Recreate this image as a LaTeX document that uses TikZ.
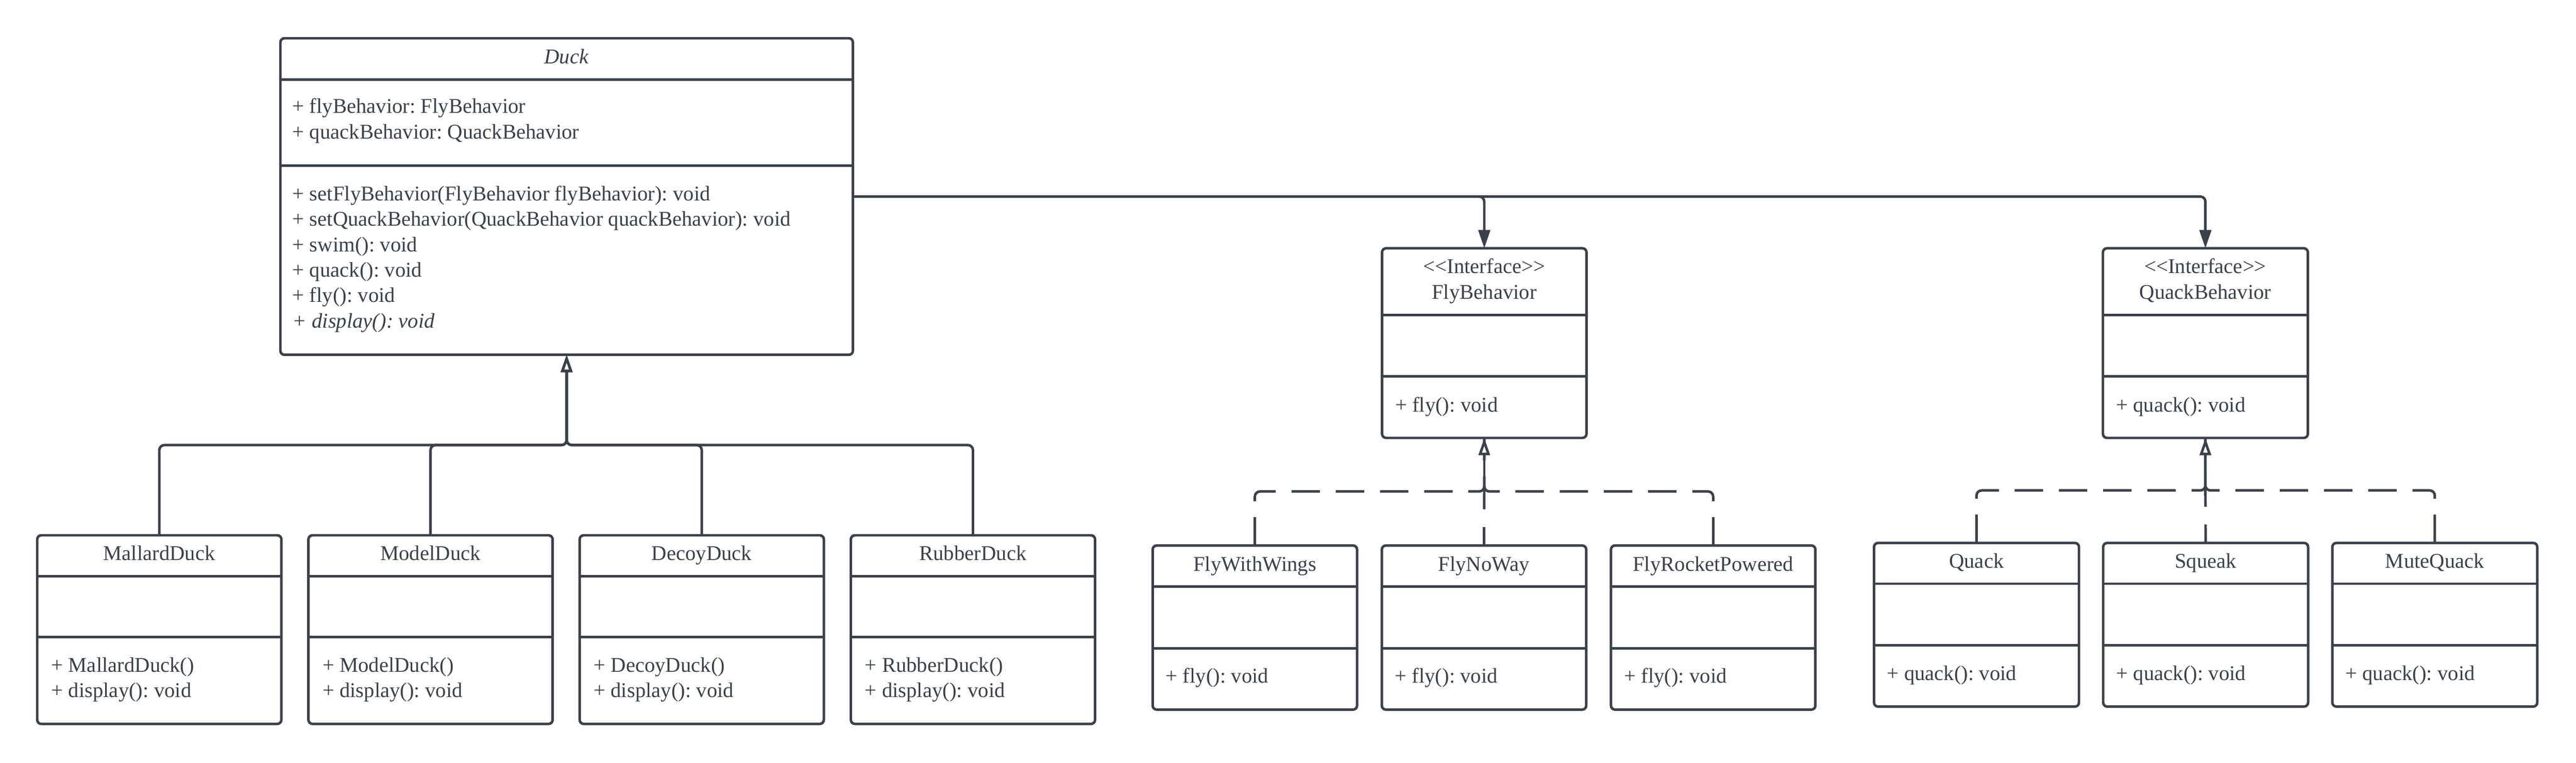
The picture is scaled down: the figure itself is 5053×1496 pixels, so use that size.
\documentclass[tikz,border=0pt]{standalone}
\usepackage{fontspec}
\setmainfont{Liberation Serif}
\usetikzlibrary{arrows.meta,positioning,calc}
\definecolor{ink}{HTML}{3A414A}
\frenchspacing

\tikzset{
  classbox/.style={draw=ink, line width=1.42pt, rounded corners=0.08cm, fill=white,
    inner sep=0pt, outer sep=0pt, anchor=north west},
  divider/.style={draw=ink, line width=1.42pt},
  txt/.style={text=ink, inner sep=0pt, font=\fontsize{11.7}{14.2}\selectfont},
  classname/.style={txt, anchor=base},
  members/.style={txt, anchor=base west, align=left}, % placed at the baseline of the last line
  link/.style={draw=ink, line width=1.42pt, rounded corners=0.1cm},
  assoc/.style={link, -{Triangle[length=0.36cm, width=0.23cm]}},
  inherit/.style={link, -{Triangle[open, length=0.34cm, width=0.22cm, fill=white]}},
  realize/.style={link, dash pattern=on 0.557cm off 0.31cm},
}

% class box: name, left, top, width, height, first divider, second divider
\newcommand{\umlbox}[7]{%
  \node[classbox, minimum width=#4*0.01cm, minimum height=#5*0.01cm] (#1) at (#2,#3) {};
  \draw[divider] (#2,#3+#6) -- (#2+#4,#3+#6);
  \draw[divider] (#2,#3+#7) -- (#2+#4,#3+#7);
}
\newcommand{\stereo}[1]{<\kern0pt<#1>\kern0pt>}

\begin{document}
\begin{tikzpicture}[x=0.01cm, y=-0.01cm]
  \fill[white] (0,0) rectangle (5053,1496);

  % abstract class
  \umlbox{Duck}{550}{75}{1123}{621}{81}{250}
  \node[classname] (Duck-name) at (1111.5,125) {\textit{Duck}};
  \node[members] (Duck-attr) at (573,272) {+ flyBehavior: FlyBehavior\\+ quackBehavior: QuackBehavior};
  \node[members] (Duck-ops) at (573,643) {+ setFlyBehavior(FlyBehavior flyBehavior): void\\
    + setQuackBehavior(QuackBehavior quackBehavior): void\\+ swim(): void\\+ quack(): void\\
    + fly(): void\\\textit{+ display(): void}};

  % concrete ducks
  \foreach \name [count=\i from 0] in {MallardDuck,ModelDuck,DecoyDuck,RubberDuck} {
    \pgfmathsetmacro\bx{73+532*\i}
    \umlbox{\name}{\bx}{1050}{479}{370}{80}{200}
    \node[classname] (\name-name) at (\bx+239.5,1099) {\name};
    \node[members] (\name-ops) at (\bx+27,1368) {+ \name()\\+ display(): void};
  }

  % interfaces
  \umlbox{FlyBehavior}{2711}{487}{401}{372}{131}{251}
  \node[classname] (FlyBehavior-stereo) at (2911.5,536) {\stereo{Interface}};
  \node[classname] (FlyBehavior-name) at (2911.5,587) {FlyBehavior};
  \node[members] (FlyBehavior-ops) at (2736,808) {+ fly(): void};

  \umlbox{QuackBehavior}{4125}{487}{402}{372}{131}{251}
  \node[classname] (QuackBehavior-stereo) at (4326,536) {\stereo{Interface}};
  \node[classname] (QuackBehavior-name) at (4326,587) {QuackBehavior};
  \node[members] (QuackBehavior-ops) at (4150,808) {+ quack(): void};

  % behaviours
  \foreach \name [count=\i from 0] in {FlyWithWings,FlyNoWay,FlyRocketPowered} {
    \pgfmathsetmacro\bx{2261+449.5*\i}
    \umlbox{\name}{\bx}{1070}{401}{322}{81}{202}
    \node[classname] (\name-name) at (\bx+200.5,1120) {\name};
    \node[members] (\name-ops) at (\bx+25,1340) {+ fly(): void};
  }
  \foreach \name [count=\i from 0] in {Quack,Squeak,MuteQuack} {
    \pgfmathsetmacro\bx{3676+449.5*\i}
    \umlbox{\name}{\bx}{1065}{402}{321}{80}{201}
    \node[classname] (\name-name) at (\bx+201,1114) {\name};
    \node[members] (\name-ops) at (\bx+25,1334) {+ quack(): void};
  }

  % connectors
  \draw[assoc] (Duck.east) -| (FlyBehavior.north);
  \draw[assoc] (Duck.east) -| (QuackBehavior.north);

  \coordinate (duckbus) at (1111.5,873);
  \foreach \name in {MallardDuck,ModelDuck,DecoyDuck,RubberDuck}
    \draw[inherit] (\name.north) |- (duckbus) -- (Duck.south);

  \coordinate (flybus) at (2911.5,964);
  \draw[realize] (FlyWithWings.north) |- (flybus) -- (FlyBehavior.south);
  \draw[realize] (FlyRocketPowered.north) |- (flybus) -- (FlyBehavior.south);
  \draw[realize, dash pattern=on 0.36cm off 0.35cm] (FlyNoWay.north) -- (flybus);
  \draw[inherit] (flybus) -- (FlyBehavior.south);

  \coordinate (quackbus) at (4326,962);
  \draw[realize] (Quack.north) |- (quackbus) -- (QuackBehavior.south);
  \draw[realize] (MuteQuack.north) |- (quackbus) -- (QuackBehavior.south);
  \draw[realize, dash pattern=on 0.36cm off 0.35cm] (Squeak.north) -- (quackbus);
  \draw[inherit] (quackbus) -- (QuackBehavior.south);
\end{tikzpicture}
\end{document}
